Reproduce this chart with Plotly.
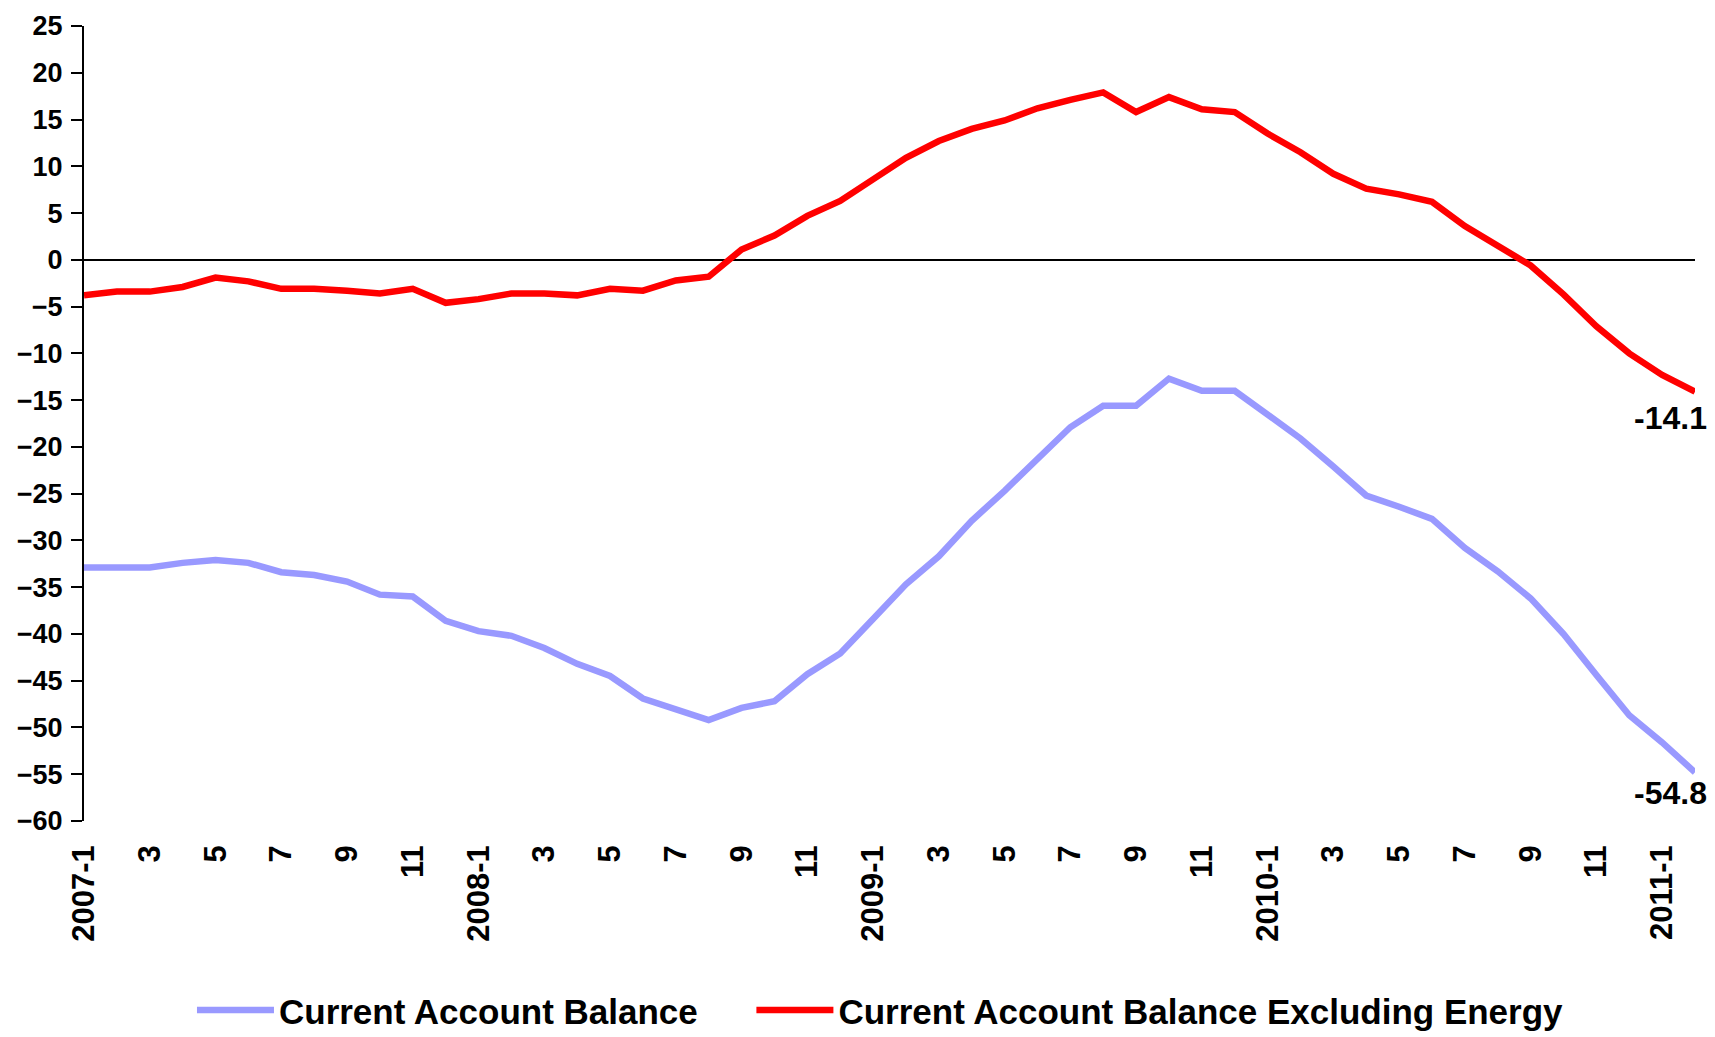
import plotly.graph_objects as go

# Monthly periods 2007-1 .. 2011-2
months = [f"{y}-{m}" for y in range(2007, 2012) for m in range(1, 13)][:50]

tick_labels = ["2007-1", "3", "5", "7", "9", "11",
               "2008-1", "3", "5", "7", "9", "11",
               "2009-1", "3", "5", "7", "9", "11",
               "2010-1", "3", "5", "7", "9", "11",
               "2011-1"]

current_account = [
    -32.9, -32.9, -32.9, -32.4, -32.1, -32.4, -33.4, -33.7, -34.4, -35.8,
    -36.0, -38.6, -39.7, -40.2, -41.5, -43.2, -44.5, -46.9, -48.0, -49.2,
    -47.9, -47.2, -44.3, -42.1, -38.4, -34.7, -31.7, -27.9, -24.7, -21.4,
    -17.9, -15.6, -15.6, -12.7, -14.0, -14.0, -16.5, -19.1, -22.1, -25.2,
    -26.4, -27.7, -30.8, -33.3, -36.2, -40.0, -44.4, -48.7, -51.6, -54.8,
]

current_account_ex_energy = [
    -3.8, -3.4, -3.4, -2.9, -1.9, -2.3, -3.1, -3.1, -3.3, -3.6,
    -3.1, -4.6, -4.2, -3.6, -3.6, -3.8, -3.1, -3.3, -2.2, -1.8,
    1.1, 2.6, 4.7, 6.3, 8.6, 10.9, 12.7, 14.0, 14.9, 16.2,
    17.1, 17.9, 15.8, 17.4, 16.1, 15.8, 13.5, 11.5, 9.2, 7.6,
    7.0, 6.2, 3.6, 1.5, -0.6, -3.7, -7.1, -10.0, -12.3, -14.1,
]

x_idx = list(range(len(months)))
tick_pos = x_idx[::2]

FONT = "Liberation Sans, Arial, sans-serif"
NB = "\u00a0"

fig = go.Figure()
fig.add_trace(go.Scatter(
    x=x_idx, y=current_account, mode="lines",
    name="Current Account Balance" + NB * 5,
    line=dict(color="#9999FF", width=6.5),
    customdata=months,
))
fig.add_trace(go.Scatter(
    x=x_idx, y=current_account_ex_energy, mode="lines",
    name="Current Account Balance Excluding Energy",
    line=dict(color="#FF0000", width=6.5),
    customdata=months,
))

# end-value labels
fig.add_annotation(x=x_idx[-1], y=current_account_ex_energy[-1],
                   text=f"{current_account_ex_energy[-1]:.1f}",
                   showarrow=False, xanchor="right", yanchor="middle",
                   xshift=14, yshift=-26,
                   font=dict(family=FONT, size=32, color="black", weight="bold"))
fig.add_annotation(x=x_idx[-1], y=current_account[-1],
                   text=f"{current_account[-1]:.1f}",
                   showarrow=False, xanchor="right", yanchor="middle",
                   xshift=14, yshift=-21,
                   font=dict(family=FONT, size=32, color="black", weight="bold"))

fig.update_layout(
    width=1707, height=1029, autosize=False,
    paper_bgcolor="white", plot_bgcolor="white",
    margin=dict(l=76, r=20, t=18, b=216),
    showlegend=True,
    legend=dict(orientation="h", x=0.4944, xanchor="center",
                yref="container", y=0.026, yanchor="middle",
                font=dict(family=FONT, size=35, color="black", weight="bold"),
                itemwidth=77, traceorder="normal"),
    xaxis=dict(
        range=[0, 49], tickmode="array", tickvals=tick_pos, ticktext=tick_labels,
        tickangle=-90, showgrid=False, zeroline=False, showline=False,
        ticks="", ticklabelstandoff=17, automargin=False,
        tickfont=dict(family=FONT, size=31, color="black", weight="bold"),
    ),
    yaxis=dict(
        range=[-60, 25], dtick=5, tick0=0, showgrid=False,
        zeroline=True, zerolinecolor="black", zerolinewidth=2,
        showline=True, linecolor="black", linewidth=2,
        ticks="outside", ticklen=11, tickwidth=2, tickcolor="black",
        ticklabelstandoff=3, automargin=False,
        tickfont=dict(family=FONT, size=27, color="black", weight="bold"),
    ),
)

fig.write_html("out.html")
